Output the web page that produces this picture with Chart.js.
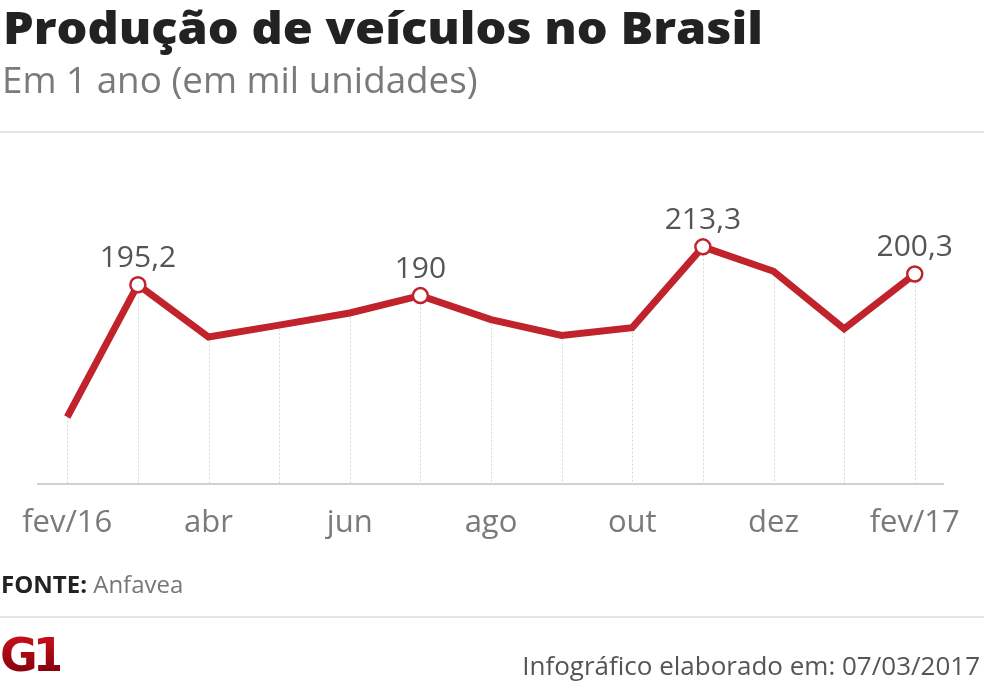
<!DOCTYPE html>
<html>
<head>
<meta charset="utf-8">
<script src="https://cdn.jsdelivr.net/npm/chart.js@4.4.1/dist/chart.umd.min.js"></script>
<style>
  html, body { margin:0; padding:0; background:#fff; width:984px; height:683px; overflow:hidden; font-family:"Open Sans", sans-serif; }
  #wrap { position:relative; width:984px; height:683px; }
  #c { position:absolute; left:0; top:0; }
  .t { position:absolute; white-space:nowrap; line-height:1; }
  #title { left:3px; top:5px; font-size:44px; font-weight:800; color:#222; transform-origin:0 0; transform:scaleX(1.105); }
  #sub { left:2px; top:61px; font-size:36.8px; color:#7a7a7a; }
  .rule { position:absolute; left:0; width:984px; height:2px; background:#e6e6e6; }
  #src { left:1px; top:572px; font-size:24px; color:#777; }
  #src b { color:#222; }
  #logo { left:0px; top:632px; font-size:46px; font-weight:900; color:#a3000c; font-family:"DejaVu Sans", sans-serif; letter-spacing:-5px;
          background:linear-gradient(#d0101e, #7a0008); -webkit-background-clip:text; background-clip:text; -webkit-text-fill-color:transparent; }
  #date { right:4px; top:652px; font-size:26px; color:#555; }
</style>
</head>
<body>
<div id="wrap">
  <canvas id="c" width="984" height="683"></canvas>
  <div class="t" id="title">Produção de veículos no Brasil</div>
  <div class="t" id="sub">Em 1 ano (em mil unidades)</div>
  <div class="rule" style="top:131px"></div>
  <div class="t" id="src"><b>FONTE:</b> Anfavea</div>
  <div class="rule" style="top:616px"></div>
  <div class="t" id="logo">G1</div>
  <div class="t" id="date">Infográfico elaborado em: 07/03/2017</div>
</div>
<script>
// Data
const months = ['fev/16','mar','abr','mai','jun','jul','ago','set','out','nov','dez','jan','fev/17'];
const tickLabels = ['fev/16','','abr','','jun','','ago','','out','','dez','','fev/17'];
const production = [132, 195.2, 170.2, 175.9, 181.7, 190, 178.5, 171.0, 174.7, 213.3, 201.6, 174.2, 200.3];
const valueLabels = ['', '195,2', '', '', '', '190', '', '', '', '213,3', '', '', '200,3'];

const RED = '#c1232c';

const dropLines = {
  id: 'dropLines',
  beforeDatasetsDraw(chart) {
    const ctx = chart.ctx;
    const meta = chart.getDatasetMeta(0);
    const bottom = chart.chartArea.bottom;
    ctx.save();
    ctx.strokeStyle = '#d9d9d9';
    ctx.lineWidth = 1;
    ctx.setLineDash([2, 2]);
    meta.data.forEach(pt => {
      const x = Math.round(pt.x) + 0.5;
      ctx.beginPath();
      ctx.moveTo(x, pt.y);
      ctx.lineTo(x, bottom);
      ctx.stroke();
    });
    ctx.restore();
  }
};

const valueLabelPlugin = {
  id: 'valueLabels',
  afterDatasetsDraw(chart) {
    const ctx = chart.ctx;
    const meta = chart.getDatasetMeta(0);
    ctx.save();
    ctx.font = '30px "Open Sans", sans-serif';
    ctx.fillStyle = '#555';
    ctx.textAlign = 'center';
    ctx.textBaseline = 'alphabetic';
    meta.data.forEach((pt, i) => {
      if (valueLabels[i]) ctx.fillText(valueLabels[i], pt.x, pt.y - 18);
    });
    ctx.restore();
  }
};

new Chart(document.getElementById('c'), {
  type: 'line',
  data: {
    datasets: [{
      data: production.map((v, i) => ({ x: i, y: v })),
      borderColor: RED,
      borderWidth: 7,
      borderJoinStyle: 'miter',
      tension: 0,
      fill: false,
      pointRadius: valueLabels.map(l => l ? 7.5 : 0),
      pointBackgroundColor: '#fff',
      pointBorderColor: RED,
      pointBorderWidth: 2.5,
      pointHoverRadius: 0
    }]
  },
  options: {
    responsive: false,
    animation: false,
    events: [],
    layout: { padding: { left: 37, right: 41, top: 170, bottom: 0 } },
    plugins: { legend: { display: false }, tooltip: { enabled: false } },
    scales: {
      x: {
        type: 'linear',
        min: -0.41,
        max: 12.4,
        afterBuildTicks(scale) { scale.ticks = months.map((m, i) => ({ value: i })); },
        afterFit(scale) { scale.height = 199; },
        grid: { display: false, drawTicks: false },
        border: { display: true, color: '#d0d0d0', width: 2 },
        ticks: {
          autoSkip: false,
          maxRotation: 0,
          padding: 21,
          color: '#7a7a7a',
          font: { family: '"Open Sans", sans-serif', size: 31 },
          callback: (v) => tickLabels[v] ?? ''
        }
      },
      y: {
        display: false,
        min: 100,
        max: 250
      }
    }
  },
  plugins: [dropLines, valueLabelPlugin]
});
</script>
</body>
</html>
